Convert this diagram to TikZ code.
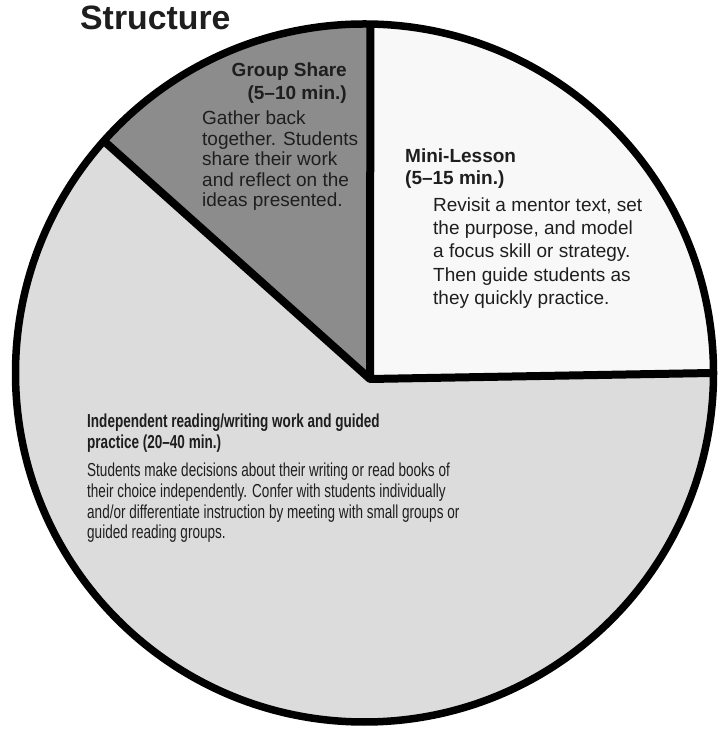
\documentclass[tikz,border=0pt]{standalone}
\usepackage{fontspec}
\setmainfont{Liberation Sans}
\newfontfamily\condfont[FakeStretch=0.72]{Liberation Sans}
\usetikzlibrary{calc}
\definecolor{lightg}{HTML}{DCDCDC}
\definecolor{darkg}{HTML}{8C8C8C}
\definecolor{paleg}{HTML}{F8F8F8}
\definecolor{ink}{HTML}{1E1E1E}
\tikzset{
  divider/.style={line width=8pt, line cap=butt},
  rim/.style={line width=7.5pt},
  txt/.style={anchor=base west, inner sep=0pt, text=ink, font=\fontsize{19}{23}\selectfont},
  txtr/.style={anchor=base east, inner sep=0pt, text=ink, font=\fontsize{19}{23}\selectfont\bfseries},
  head/.style={txt, font=\fontsize{19}{23}\selectfont\bfseries},
  ctxt/.style={txt, font=\fontsize{18.8}{22}\selectfont\condfont},
  chead/.style={txt, font=\fontsize{18.8}{22}\selectfont\condfont\bfseries},
}
\begin{document}
\begin{tikzpicture}[x=1pt,y=1pt]
\useasboundingbox (0,0) rectangle (723,730);
\coordinate (C) at (364.5,357);
\coordinate (J) at (370,351);
\coordinate (T) at (371,1200);
\coordinate (P) at (105,588);
\coordinate (R) at (712,357);
\begin{scope}
  \clip (C) circle (349);
  \fill[lightg] (C) circle (400);
  \fill[paleg] (J) -- (T) -- ($(J)!3!(R)$) -- cycle;
  \fill[darkg] (J) -- (T) -- ($(J)!4!(P)$) -- cycle;
  \draw[divider] (J) -- (T);
  \draw[divider] (J) -- ($(J)!3!(P)$);
  \draw[divider] (J) -- ($(J)!3!(R)$);
\end{scope}
\fill[black] (J) circle (4);
\draw[rim] (C) circle (349);

% title
\node[anchor=base west, inner sep=0pt, text=ink, font=\fontsize{33.8}{38}\selectfont\bfseries] (title) at (80,700) {Structure};

% group share
\node[txtr] (gs1) at (347,653) {Group Share};
\node[txtr] (gs2) at (347,630) {(5–10 min.)};
\node[txt] (gb1) at (202,605) {Gather back};
\node[txt] (gb2) at (202,584.5) {together. Students};
\node[txt] (gb3) at (202,564) {share their work};
\node[txt] (gb4) at (202,543.5) {and reflect on the};
\node[txt] (gb5) at (202,523) {ideas presented.};

% mini-lesson
\node[head] (ml1) at (405,567) {Mini-Lesson};
\node[head] (ml2) at (405,545) {(5–15 min.)};
\node[txt] (mb1) at (433,518) {Revisit a mentor text, set};
\node[txt] (mb2) at (433,495) {the purpose, and model};
\node[txt] (mb3) at (433,472) {a focus skill or strategy.};
\node[txt] (mb4) at (433,448) {Then guide students as};
\node[txt] (mb5) at (433,425) {they quickly practice.};

% independent
\node[chead] (ih1) at (87,302) {Independent reading/writing work and guided};
\node[chead] (ih2) at (87,281) {practice (20–40 min.)};
\node[ctxt] (ib1) at (87,253.5) {Students make decisions about their writing or read books of};
\node[ctxt] (ib2) at (87,232.5) {their choice independently. Confer with students individually};
\node[ctxt] (ib3) at (87,211.5) {and/or differentiate instruction by meeting with small groups or};
\node[ctxt] (ib4) at (87,191) {guided reading groups.};
\end{tikzpicture}
\end{document}
